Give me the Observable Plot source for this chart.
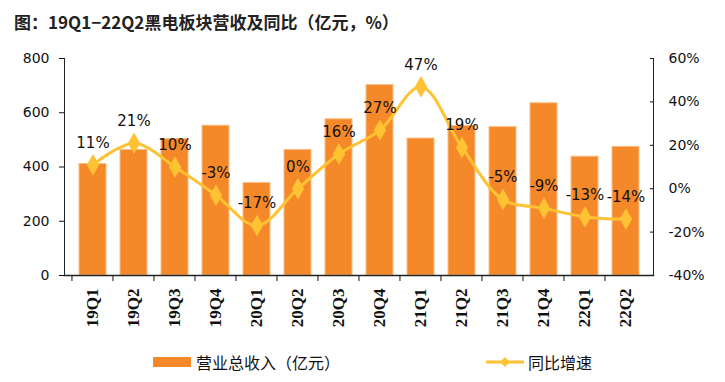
<!DOCTYPE html>
<html><head><meta charset="utf-8">
<script src="https://cdn.jsdelivr.net/npm/d3@7"></script>
<script src="https://cdn.jsdelivr.net/npm/@observablehq/plot@0.6"></script>
<style>
body{margin:0;background:#fff;font-family:"DejaVu Sans","Noto Sans CJK SC",sans-serif;}
#title{height:40px;box-sizing:border-box;padding:9px 0 0 14px;font-family:"Noto Sans CJK SC",sans-serif;font-weight:bold;font-size:17px;color:#222;}
#legend{height:42px;position:relative;font-size:16px;color:#111;font-family:"Noto Sans CJK SC",sans-serif;}
.lg{position:absolute;top:14px;display:flex;align-items:center;line-height:16px;}
</style></head>
<body>
<div id="title">图：19Q1−22Q2黑电板块营收及同比（亿元，%）</div>
<div id="chart"></div>
<div id="legend">
  <div class="lg" style="left:153px"><span style="display:inline-block;width:38px;height:10px;background:#F5892A;margin-right:5px"></span>营业总收入（亿元）</div>
  <div class="lg" style="left:485px"><svg width="40" height="14" style="margin-right:3px"><line x1="1" y1="7" x2="39" y2="7" stroke="#FFC233" stroke-width="3"/><path d="M20,2 L25,7 L20,12 L15,7Z" fill="#FFC233"/></svg>同比增速</div>
</div>
<script>
const quarters = ["19Q1","19Q2","19Q3","19Q4","20Q1","20Q2","20Q3","20Q4","21Q1","21Q2","21Q3","21Q4","22Q1","22Q2"];
const revenue = [411,463,503,552,341,463,576,702,505,551,547,635,438,474];
const growth = [11,21,10,-3,-17,0,16,27,47,19,-5,-9,-13,-14];
const leftTicks = [0,200,400,600,800];
const rightTicks = [-40,-20,0,20,40,60];

const toY = g => (g + 40) * 8;
const data = quarters.map((q,i)=>({q, rev: revenue[i], g: growth[i], gy: toY(growth[i])}));
const W = 725, ML = 64, MR = 72;
const bw = (W - ML - MR) / quarters.length;

const chart = Plot.plot({
  width: W, height: 300,
  marginLeft: ML, marginRight: MR, marginTop: 18, marginBottom: 65,
  style: {fontFamily: "DejaVu Sans, Noto Sans CJK SC, sans-serif", fontSize: "14px", color: "#111", background: "#fff"},
  x: {domain: quarters, padding: 0.35, label: null},
  y: {domain: [0, 800], label: null},
  marks: [
    Plot.barY(data, {x: "q", y: "rev", fill: "#F5892A", stroke: "#F9BD86", strokeWidth: 1}),
    Plot.line(data, {x: "q", y: "gy", stroke: "#FFC233", strokeWidth: 3, curve: "catmull-rom"}),
    Plot.dot(data, {x: "q", y: "gy", symbol: "diamond", r: 6.5, fill: "#FFC233"}),
    Plot.text(data, {x: "q", y: "gy", text: d => d.g + "%", dy: -22, fontSize: 15, fill: "#111"}),
    Plot.axisY({anchor: "left", ticks: leftTicks, tickSize: 5, tickPadding: 10, label: null, fontSize: 14}),
    Plot.axisY({anchor: "right", ticks: rightTicks.map(toY), tickSize: 4, dx: -4, tickFormat: () => "", label: null}),
    Plot.axisY({anchor: "right", ticks: rightTicks.map(toY), tickFormat: d => (d/8 - 40) + "%", tickSize: 0, tickPadding: 15, label: null, fontSize: 14}),
    Plot.axisX({anchor: "bottom", tickSize: 0, tickRotate: -90, tickPadding: 13, label: null, fontSize: 17, fontWeight: "bold", fontFamily: "Liberation Serif, DejaVu Serif, serif"}),
    Plot.axisX({anchor: "bottom", tickSize: 6, tickFormat: () => "", dx: -bw/2, label: null}),
    Plot.frame({anchor: "left", stroke: "#222"}),
    Plot.frame({anchor: "right", stroke: "#222"}),
    Plot.frame({anchor: "bottom", stroke: "#222", strokeWidth: 1.5})
  ]
});
document.getElementById("chart").appendChild(chart);
</script>
</body></html>
